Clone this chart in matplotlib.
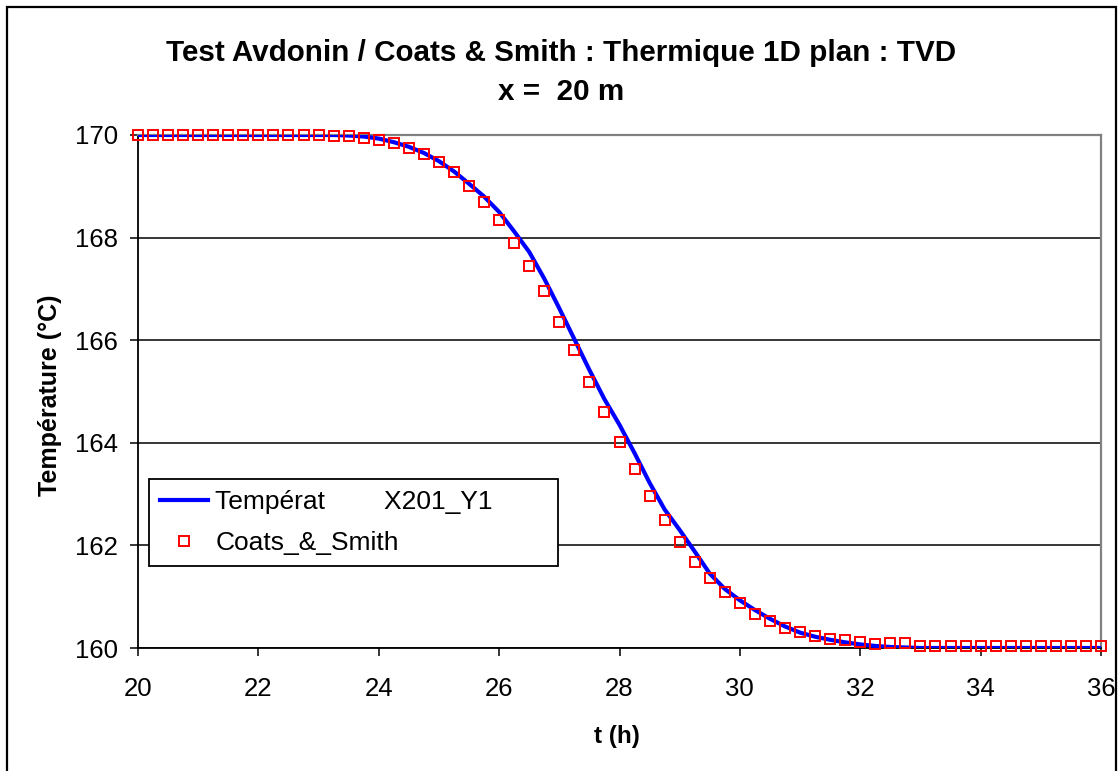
import numpy as np
import matplotlib
matplotlib.use("Agg")
import matplotlib.pyplot as plt
from matplotlib.patches import Rectangle

plt.rcParams['font.family'] = ['Liberation Sans', 'DejaVu Sans']

# simulated temperature (blue line), t in hours
t_sim = [20.0, 21.0, 22.0, 23.0, 23.25, 23.5, 23.75, 24.0, 24.25, 24.5, 24.75,
         25.0, 25.25, 25.5, 25.75, 26.0, 26.25, 26.5, 26.75, 27.0, 27.25,
         27.5, 27.75, 28.0, 28.25, 28.5, 28.75, 29.0, 29.25, 29.5, 29.75,
         30.0, 30.25, 30.5, 30.75, 31.0, 31.25, 31.5, 31.75, 32.0, 32.25,
         32.5, 32.75, 33.0, 34.0, 35.0, 36.0]
T_sim = [170.0, 170.0, 170.0, 170.0, 170.0, 169.99, 169.97, 169.93, 169.86, 169.77, 169.65,
         169.49, 169.29, 169.05, 168.80, 168.50, 168.12, 167.72, 167.20, 166.62, 166.02,
         165.42, 164.85, 164.35, 163.80, 163.22, 162.70, 162.30, 161.88, 161.45, 161.15,
         160.93, 160.74, 160.57, 160.42, 160.30, 160.22, 160.16, 160.11, 160.07, 160.04,
         160.02, 160.01, 160.0, 160.0, 160.0, 160.0]

# analytical solution (red squares), one point every 0.25 h
t_ref = np.linspace(20, 36, 65)
T_ref = [170.0, 170.0, 170.0, 170.0, 170.0, 170.0, 170.0, 170.0, 170.0, 170.0,
         170.0, 170.0, 170.0, 169.99, 169.98, 169.95, 169.91, 169.85, 169.75, 169.63,
         169.47, 169.27, 169.00, 168.70, 168.34, 167.90, 167.45, 166.95, 166.35, 165.81,
         165.18, 164.60, 164.02, 163.48, 162.97, 162.50, 162.07, 161.68, 161.37, 161.09,
         160.87, 160.67, 160.52, 160.39, 160.31, 160.23, 160.18, 160.16, 160.11, 160.08,
         160.09, 160.09, 160.03, 160.03, 160.03, 160.03, 160.03, 160.03, 160.03, 160.03,
         160.03, 160.03, 160.03, 160.03, 160.03]

W, H = 1119, 771
fig = plt.figure(figsize=(W / 100, H / 100), dpi=100)
ax = fig.add_axes([138 / W, 1 - 648 / H, (1101 - 138) / W, (648 - 135) / H])

ax.plot(t_sim, T_sim, color='#0000ff', lw=3.0, label='Températ        X201_Y1', zorder=3)
ax.plot(t_ref, T_ref, 's', ms=7.6, mfc='none', mec='#ff0000', mew=1.4,
        label='Coats_&_Smith', zorder=4, clip_on=False)

ax.set_xlim(20, 36)
ax.set_ylim(160, 170)
ax.set_xticks(np.arange(20, 37, 2))
ax.set_yticks(np.arange(160, 171, 2))
ax.tick_params(axis='both', direction='out', length=5.5, width=1.1, labelsize=18.5,
               color='black')
ax.tick_params(axis='x', pad=15.5)
ax.tick_params(axis='y', pad=9)
ax.grid(axis='y', color='black', lw=1.1)
ax.set_axisbelow(True)
for s in ['left', 'bottom']:
    ax.spines[s].set_color('black')
    ax.spines[s].set_linewidth(1.3)
for s in ['top', 'right']:
    ax.spines[s].set_color('#808080')
    ax.spines[s].set_linewidth(1.6)

leg = ax.legend(loc='lower left', bbox_to_anchor=(0.0114, 0.160, 0.4247, 0.171),
                mode='expand', borderaxespad=0, fontsize=19, fancybox=False,
                framealpha=1, edgecolor='black', handlelength=1.8,
                handletextpad=0.3, labelspacing=0.62, borderpad=0.42)
leg.get_frame().set_linewidth(1.3)

fig.text(561 / W, 1 - 61 / H, 'Test Avdonin / Coats & Smith : Thermique 1D plan : TVD',
         ha='center', va='baseline', fontsize=21.3, fontweight='bold')
fig.text(561 / W, 1 - 100 / H, 'x =  20 m', ha='center', va='baseline',
         fontsize=21.3, fontweight='bold')
fig.text(617 / W, 1 - 743 / H, 't (h)', ha='center', va='baseline',
         fontsize=17.5, fontweight='bold')
fig.text(50 / W, 1 - 395 / H, 'Température (°C)', ha='center', va='center',
         rotation=90, fontsize=18, fontweight='bold')

fig.patches.append(Rectangle((7 / W, -0.01), (1116 - 7) / W, 1.01 - 7 / H,
                             transform=fig.transFigure, fill=False,
                             ec='black', lw=1.6))

fig.savefig('out.png', dpi=100)
